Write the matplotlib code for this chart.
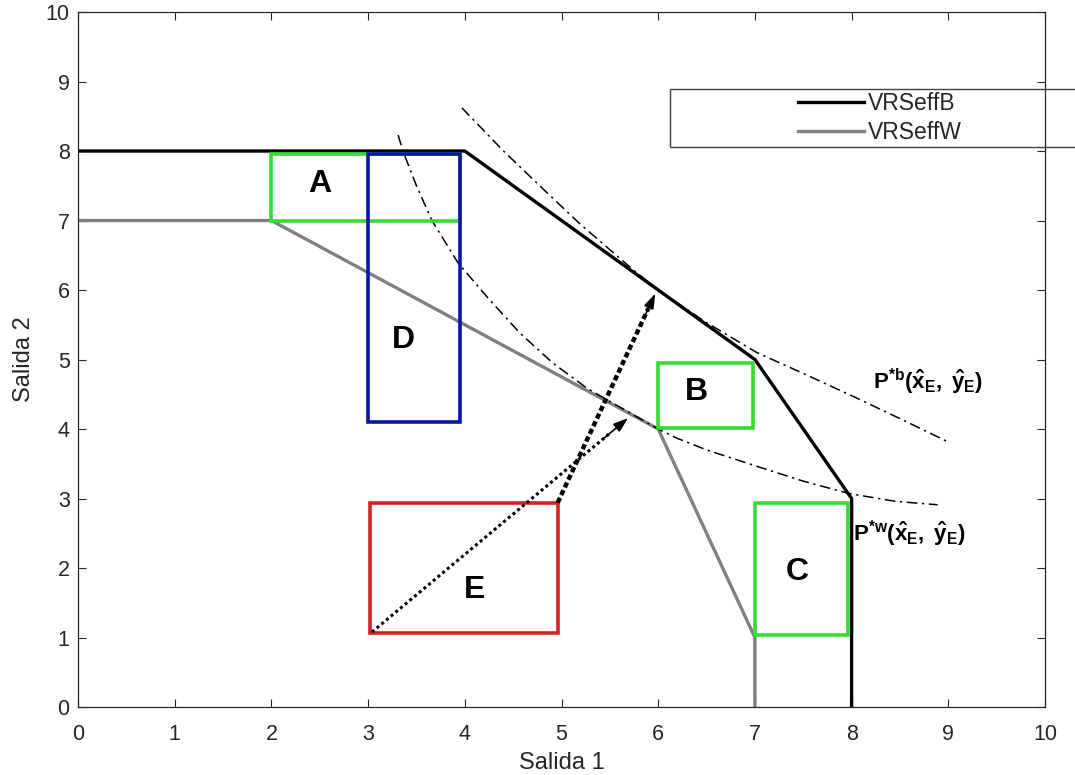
import matplotlib
matplotlib.use("Agg")
import matplotlib.pyplot as plt
from matplotlib.patches import Rectangle

plt.rcParams['font.family'] = ['Liberation Sans', 'DejaVu Sans']
plt.rcParams['mathtext.fontset'] = 'custom'
plt.rcParams['mathtext.rm'] = 'Liberation Sans'
plt.rcParams['mathtext.bf'] = 'Liberation Sans:bold'
plt.rcParams['mathtext.it'] = 'Liberation Sans:italic'

# fronteras
front_b_x = [0, 4, 7, 8, 8]
front_b_y = [8, 8, 5, 3, 0]
front_w_x = [0, 2, 6, 7, 7]
front_w_y = [7, 7, 4, 1, 0]

# curvas de nivel
curve_b_x = [3.97, 4.4, 4.88, 5.2, 5.5, 5.75, 6.0, 6.5, 7.02, 7.5, 8.0, 8.5, 8.99]
curve_b_y = [8.62, 8.0, 7.36, 6.94, 6.58, 6.28, 6.0, 5.53, 5.1, 4.8, 4.48, 4.15, 3.82]
curve_w_x = [3.31, 3.36, 3.5, 3.66, 3.93, 4.23, 4.57, 4.91, 5.26, 5.47, 5.75, 6.0,
             6.19, 6.5, 7.05, 7.5, 7.98, 8.45, 8.89]
curve_w_y = [8.23, 8.0, 7.5, 7.0, 6.39, 5.9, 5.38, 4.95, 4.59, 4.42, 4.2, 4.0,
             3.87, 3.7, 3.45, 3.25, 3.07, 2.96, 2.91]

# rectangulos
box_names = ['A', 'D', 'B', 'C', 'E']
box_x0 = [2.0, 3.0, 6.0, 7.0, 3.02]
box_x1 = [3.95, 3.95, 6.98, 7.96, 4.96]
box_y0 = [7.0, 4.1, 4.02, 1.04, 1.07]
box_y1 = [7.95, 7.95, 4.95, 2.93, 2.94]
box_colors = ['#33dd33', '#0a14a8', '#33dd33', '#33dd33', '#d42222']
label_x = [2.5, 3.36, 6.4, 7.44, 4.1]
label_y = [7.52, 5.28, 4.53, 1.94, 1.68]

# flechas
arrow_dot = [(3.04, 1.08), (5.69, 4.16)]
arrow_dash = [(4.96, 2.94), (5.97, 5.95)]

fig = plt.figure(figsize=(10.75, 7.75), dpi=100)
ax = fig.add_axes([0.0726, 0.0877, 0.8995, 0.8968])

lb, = ax.plot(front_b_x, front_b_y, color='black', lw=2.4, label='VRSeffB')
lw_, = ax.plot(front_w_x, front_w_y, color='#808080', lw=2.4, label='VRSeffW')

ax.plot(curve_b_x, curve_b_y, color='black', lw=1.1, ls=(0, (7, 3, 1.5, 3)))
ax.plot(curve_w_x, curve_w_y, color='black', lw=1.1, ls=(0, (7, 3, 1.5, 3)))

for i in range(len(box_names)):
    ax.add_patch(Rectangle((box_x0[i], box_y0[i]), box_x1[i] - box_x0[i],
                           box_y1[i] - box_y0[i], fill=False,
                           edgecolor=box_colors[i], lw=2.6, zorder=3))
    ax.text(label_x[i], label_y[i], box_names[i], fontsize=23,
            fontweight='bold', ha='center', va='center', zorder=4)

# flechas punteadas
(x0, y0), (x1, y1) = arrow_dot
ax.plot([x0, x0 + 0.93 * (x1 - x0)], [y0, y0 + 0.93 * (y1 - y0)],
        color='black', lw=2.2, ls=(0, (1, 1)), zorder=5)
ax.annotate('', xy=(x1, y1), xytext=(x0 + 0.9 * (x1 - x0), y0 + 0.9 * (y1 - y0)),
            arrowprops=dict(arrowstyle='-|>,head_length=0.9,head_width=0.3',
                            color='black', lw=1.2, shrinkA=0, shrinkB=0), zorder=5)
(x0, y0), (x1, y1) = arrow_dash
ax.plot([x0, x0 + 0.93 * (x1 - x0)], [y0, y0 + 0.93 * (y1 - y0)],
        color='black', lw=3.2, ls=(0, (1.2, 0.7)), zorder=5)
ax.annotate('', xy=(x1, y1), xytext=(x0 + 0.9 * (x1 - x0), y0 + 0.9 * (y1 - y0)),
            arrowprops=dict(arrowstyle='-|>,head_length=0.9,head_width=0.3',
                            color='black', lw=1.2, shrinkA=0, shrinkB=0), zorder=5)

ax.text(8.22, 4.68, r'$\mathbf{P^{*b}(\hat{x}_{E},\ \hat{y}_{E})}$',
        fontsize=16, ha='left', va='center')
ax.text(8.01, 2.5, r'$\mathbf{P^{*w}(\hat{x}_{E},\ \hat{y}_{E})}$',
        fontsize=16, ha='left', va='center')

ax.set_xlim(0, 10)
ax.set_ylim(0, 10)
ax.set_xticks(range(11))
ax.set_yticks(range(11))
ax.tick_params(direction='in', top=True, right=True, length=6, width=0.8,
               labelsize=15.5, colors='#262626')
ax.tick_params(axis='x', pad=12)
ax.tick_params(axis='y', pad=6)
for s in ax.spines.values():
    s.set_color('#262626')
    s.set_linewidth(0.9)
ax.set_xlabel('Salida 1', fontsize=17, color='#262626', labelpad=5)
ax.set_ylabel('Salida 2', fontsize=17, color='#262626', labelpad=8)

# leyenda con marco extendido
fig.patches.append(Rectangle((670 / 1075, 1 - 147 / 775), 0.45, 58 / 775,
                             transform=fig.transFigure, fill=False,
                             edgecolor='#404040', lw=1.0, zorder=10))
leg = fig.legend(handles=[lb, lw_], loc='center left',
                 bbox_to_anchor=(798 / 1075, 1 - 118 / 775), frameon=False,
                 fontsize=16.5, handlelength=2.9, handletextpad=0.15,
                 labelspacing=0.3, borderpad=0, borderaxespad=0)
for t in leg.get_texts():
    t.set_color('#262626')

fig.savefig('out.png', dpi=100)
